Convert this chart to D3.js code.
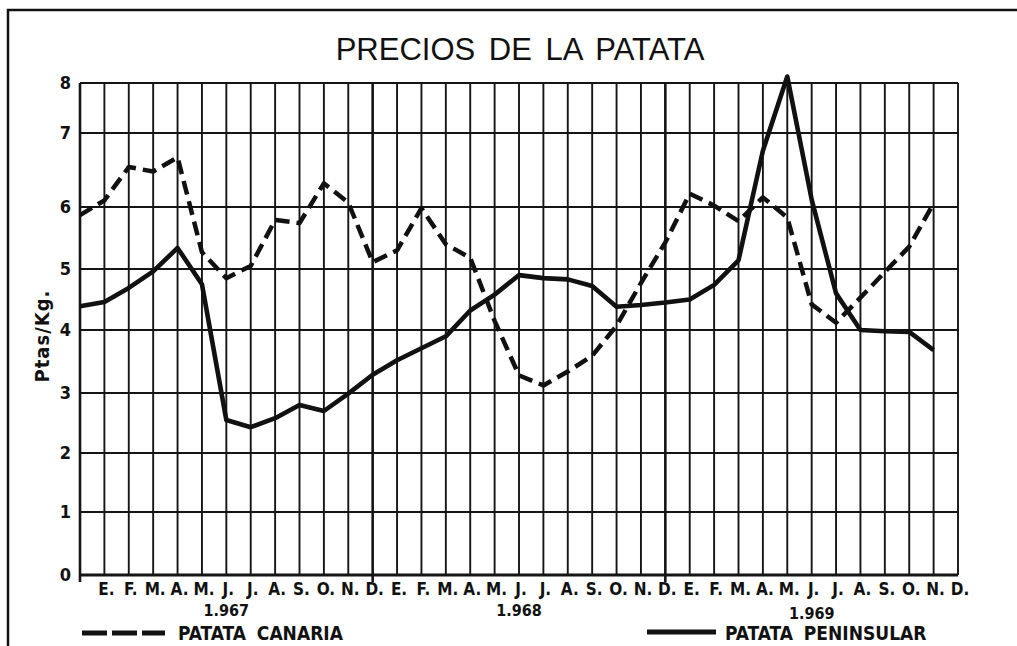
<!DOCTYPE html>
<html>
<head>
<meta charset="utf-8">
<script src="https://cdn.jsdelivr.net/npm/d3@7"></script>
<style>
  body { margin: 0; background: #fff; }
  svg { display: block; }
</style>
</head>
<body>
<div class="canvas"></div>
<script>
// month labels (Spanish initials), three years
const months = ['E.', 'F.', 'M.', 'A.', 'M.', 'J.', 'J.', 'A.', 'S.', 'O.', 'N.', 'D.']
const monthLabels = [].concat(months, months, months)
const years = ['1.967', '1.968', '1.969']
const yTicks = [0, 1, 2, 3, 4, 5, 6, 7, 8]

// Ptas/Kg, one value per month line
const canaria = [5.87, 6.09, 6.54, 6.48, 6.67, 5.27, 4.85, 5.05, 5.79, 5.74, 6.32, 6.06,
  5.11, 5.3, 5.98, 5.4, 5.18, 4.15, 3.28, 3.12, 3.34, 3.59, 4.07, 4.77,
  5.43, 6.18, 6.02, 5.77, 6.13, 5.83, 4.42, 4.12, 4.53, 4.95, 5.36, 6.05]
const peninsular = [4.39, 4.46, 4.69, 4.96, 5.34, 4.75, 2.55, 2.43, 2.58, 2.8, 2.7, 2.99,
  3.29, 3.52, 3.71, 3.9, 4.32, 4.58, 4.9, 4.85, 4.83, 4.72, 4.38, 4.41,
  4.45, 4.5, 4.74, 5.14, 6.76, 8.13, 6.1, 4.6, 4.0, 3.98, 3.97, 3.68]

const labelFont = 'DejaVu Sans Condensed, DejaVu Sans'

const canvas = d3.select('.canvas')

const svg = canvas.append('svg')
    .attr('width', 1017)
    .attr('height', 646)

// outer frame (only left and top are visible on the sheet)
svg.append('path')
    .attr('d', 'M8,646 L8,10 L1017,10')
    .attr('fill', 'none')
    .attr('stroke', '#111')
    .attr('stroke-width', 2.5)

// x: one vertical line per month, line 0 is the y axis
const x = d3.scaleLinear()
    .domain([0, 36])
    .range([80, 958])

// y: the hand drawn grid is not evenly spaced, so use a piecewise scale
const y = d3.scaleLinear()
    .domain(yTicks)
    .range([575, 512, 453, 393, 330, 269, 207, 133, 83])

const grid = svg.append('g')

// horizontal grid
grid.selectAll('.hline')
    .data(yTicks)
    .enter().append('line')
    .attr('x1', x(0))
    .attr('x2', x(36))
    .attr('y1', d => y(d))
    .attr('y2', d => y(d))
    .attr('stroke', '#151515')
    .attr('stroke-width', d => d === 0 ? 2.8 : 1.9)

// vertical grid, year ends a bit heavier and running below the axis
grid.selectAll('.vline')
    .data(d3.range(0, 37))
    .enter().append('line')
    .attr('x1', d => x(d))
    .attr('x2', d => x(d))
    .attr('y1', y(8))
    .attr('y2', d => (d === 0 || d === 12 || d === 24) ? y(0) + 7 : y(0))
    .attr('stroke', '#151515')
    .attr('stroke-width', d => (d === 0 || d === 12 || d === 24) ? 2.6 : 1.9)

// y tick labels
svg.selectAll('.ylab')
    .data(yTicks)
    .enter().append('text')
    .attr('x', 71)
    .attr('y', d => y(d))
    .attr('dy', '0.36em')
    .attr('text-anchor', 'end')
    .attr('font-family', labelFont)
    .attr('font-weight', 'bold')
    .attr('font-size', 18)
    .attr('fill', '#111')
    .text(d => d)

// y axis title
svg.append('text')
    .attr('transform', 'translate(49,336) rotate(-90)')
    .attr('text-anchor', 'middle')
    .attr('font-family', labelFont)
    .attr('font-weight', 'bold')
    .attr('font-size', 20)
    .attr('letter-spacing', 1)
    .attr('fill', '#111')
    .text('Ptas/Kg.')

// month labels sit on lines 1..36
svg.selectAll('.mlab')
    .data(monthLabels)
    .enter().append('text')
    .attr('x', (d, i) => x(i + 1) + 2)
    .attr('y', 595)
    .attr('text-anchor', 'middle')
    .attr('font-family', labelFont)
    .attr('font-weight', 'bold')
    .attr('font-size', 17)
    .attr('fill', '#111')
    .text(d => d)

// year labels under June of each year
svg.selectAll('.ylabel')
    .data(years)
    .enter().append('text')
    .attr('x', (d, i) => x(6 + i * 12))
    .attr('y', (d, i) => i === 2 ? 619 : 616)
    .attr('text-anchor', 'middle')
    .attr('font-family', labelFont)
    .attr('font-weight', 'bold')
    .attr('font-size', 16)
    .attr('fill', '#111')
    .text(d => d)

// title
svg.append('text')
    .attr('x', 520)
    .attr('y', 60)
    .attr('text-anchor', 'middle')
    .attr('font-family', 'Liberation Sans, Arial')
    .attr('font-size', 31)
    .attr('word-spacing', 5)
    .attr('fill', '#111')
    .text('PRECIOS DE LA PATATA')

// the two series
const line = d3.line()
    .x((d, i) => x(i))
    .y(d => y(d))

svg.append('path')
    .datum(canaria)
    .attr('d', line)
    .attr('fill', 'none')
    .attr('stroke', '#111')
    .attr('stroke-width', 4.5)
    .attr('stroke-dasharray', '14,7')
    .attr('stroke-linejoin', 'round')

svg.append('path')
    .datum(peninsular)
    .attr('d', line)
    .attr('fill', 'none')
    .attr('stroke', '#111')
    .attr('stroke-width', 4.6)
    .attr('stroke-linejoin', 'round')

// legend
const legend = svg.append('g')

legend.append('line')
    .attr('x1', 82)
    .attr('x2', 165)
    .attr('y1', 633)
    .attr('y2', 633)
    .attr('stroke', '#111')
    .attr('stroke-width', 5)
    .attr('stroke-dasharray', '25,5')

legend.append('text')
    .attr('x', 178)
    .attr('y', 640)
    .attr('font-family', labelFont)
    .attr('font-weight', 'bold')
    .attr('font-size', 19)
    .attr('word-spacing', 5)
    .attr('fill', '#111')
    .text('PATATA CANARIA')

legend.append('line')
    .attr('x1', 647)
    .attr('x2', 716)
    .attr('y1', 632)
    .attr('y2', 632)
    .attr('stroke', '#111')
    .attr('stroke-width', 5)

legend.append('text')
    .attr('x', 725)
    .attr('y', 640)
    .attr('font-family', labelFont)
    .attr('font-weight', 'bold')
    .attr('font-size', 19)
    .attr('word-spacing', 5)
    .attr('fill', '#111')
    .text('PATATA PENINSULAR')
</script>
</body>
</html>
